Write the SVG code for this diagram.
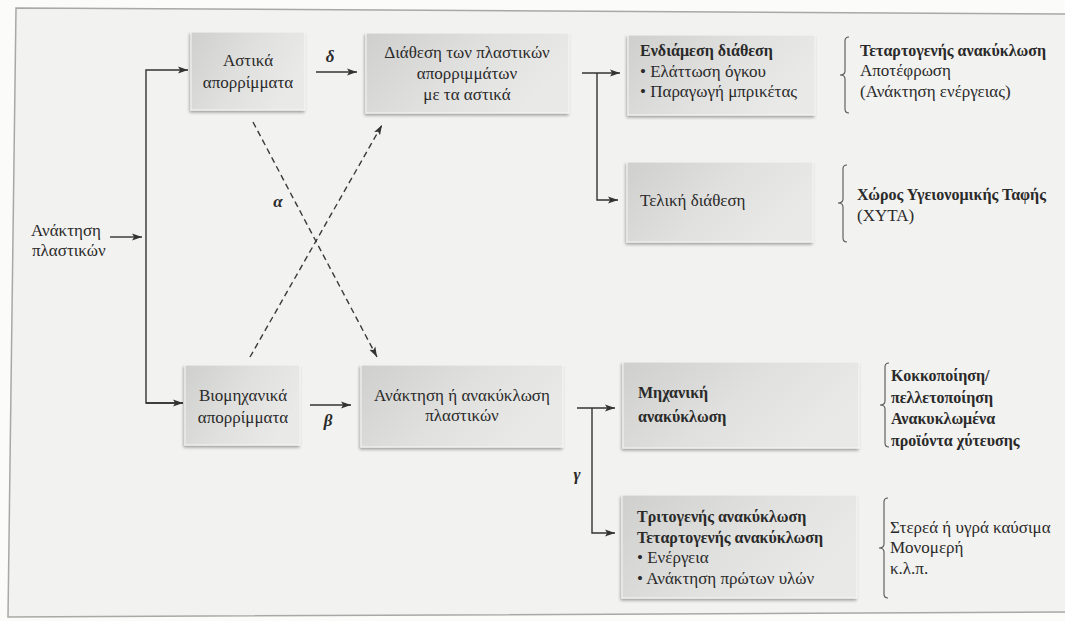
<svg xmlns="http://www.w3.org/2000/svg" width="1065" height="621" viewBox="0 0 1065 621">
  <defs>
    <linearGradient id="boxFill" x1="0" y1="0" x2="1" y2="0.4">
      <stop offset="0" stop-color="#cfcfcd"/>
      <stop offset="0.55" stop-color="#e0e0de"/>
      <stop offset="1" stop-color="#e9e9e7"/>
    </linearGradient>
    <filter id="shadow" x="-10%" y="-10%" width="120%" height="130%">
      <feGaussianBlur in="SourceAlpha" stdDeviation="1.4"/>
      <feOffset dx="-1" dy="2" result="b"/>
      <feComponentTransfer><feFuncA type="linear" slope="0.35"/></feComponentTransfer>
      <feMerge><feMergeNode/><feMergeNode in="SourceGraphic"/></feMerge>
    </filter>
    <marker id="arrow" viewBox="0 0 10 8" refX="10" refY="4" markerWidth="10" markerHeight="8" markerUnits="userSpaceOnUse" orient="auto">
      <path d="M0,0.6 L10,4 L0,7.4 L2.2,4 Z" fill="#333"/>
    </marker>
  </defs>
  <style>
    .box { fill: url(#boxFill); stroke: #f6f6f4; stroke-width: 1; filter: url(#shadow); }
    .t { font-family: "Liberation Serif", "DejaVu Serif", serif; font-size: 17px; fill: #2a2a2a; }
    .c { text-anchor: middle; }
    .b { font-weight: bold; font-size: 16px; }
    .lbl { font-family: "Liberation Serif", "DejaVu Serif", serif; font-size: 17px; font-weight: bold; font-style: italic; fill: #2a2a2a; text-anchor: middle; }
    .ln { fill: none; stroke: #333; stroke-width: 1.4; }
    .dash { fill: none; stroke: #3a3a3a; stroke-width: 1.4; stroke-dasharray: 6 4; }
    .brace { fill: none; stroke: #555; stroke-width: 1.1; }
  </style>

  <!-- page and frame -->
  <rect x="0" y="0" width="1065" height="621" fill="#fbfbfa"/>
  <path d="M16,8 L1080,14 L1080,612 L8,617 Z" fill="#f2f2f0" stroke="#a8a8a6" stroke-width="1.5"/>

  <!-- connectors -->
  <g id="connectors">
    <path class="ln" d="M110,237 L142,237" marker-end="url(#arrow)"/>
    <path class="ln" d="M183,403 L146,403 L146,70 L188,70" marker-end="url(#arrow)"/>
    <path class="ln" d="M146,403 L183,403" marker-end="url(#arrow)"/>
    <path class="ln" d="M316,72 L357,72" marker-end="url(#arrow)"/>
    <path class="ln" d="M310,405 L351,405" marker-end="url(#arrow)"/>
    <path class="dash" d="M253,122 L377,357" marker-end="url(#arrow)"/>
    <path class="dash" d="M250,357 L382,125" marker-end="url(#arrow)"/>
    <path class="ln" d="M582,73 L620,73" marker-end="url(#arrow)"/>
    <path class="ln" d="M597,73 L597,200 L618,200" marker-end="url(#arrow)"/>
    <path class="ln" d="M577,408 L615,408" marker-end="url(#arrow)"/>
    <path class="ln" d="M592,408 L592,533 L615,533" marker-end="url(#arrow)"/>
    <text class="lbl" x="330" y="62">δ</text>
    <text class="lbl" x="328" y="426">β</text>
    <text class="lbl" x="278" y="207">α</text>
    <text class="lbl" x="577" y="480">γ</text>
  </g>

  <!-- source -->
  <g id="source">
    <text class="t" x="31" y="236">Ανάκτηση</text>
    <text class="t" x="32" y="256">πλαστικών</text>
  </g>

  <g id="urban">
    <rect class="box" x="191" y="32" width="114" height="78"/>
    <text class="t c" x="248" y="66">Αστικά</text>
    <text class="t c" x="248" y="88">απορρίμματα</text>
  </g>

  <g id="industrial">
    <rect class="box" x="185" y="365" width="115" height="80"/>
    <text class="t c" x="243" y="401">Βιομηχανικά</text>
    <text class="t c" x="243" y="423">απορρίμματα</text>
  </g>

  <g id="disposal">
    <rect class="box" x="366" y="33" width="203" height="80"/>
    <text class="t c" x="467" y="58">Διάθεση των πλαστικών</text>
    <text class="t c" x="467" y="79">απορριμμάτων</text>
    <text class="t c" x="467" y="100">με τα αστικά</text>
  </g>

  <g id="recovery">
    <rect class="box" x="361" y="365" width="202" height="82"/>
    <text class="t c" x="462" y="401">Ανάκτηση ή ανακύκλωση</text>
    <text class="t c" x="462" y="421">πλαστικών</text>
  </g>

  <g id="intermediate">
    <rect class="box" x="628" y="35" width="187" height="80"/>
    <text class="t b" x="640" y="56">Ενδιάμεση διάθεση</text>
    <text class="t" x="640" y="77">• Ελάττωση όγκου</text>
    <text class="t" x="640" y="97">• Παραγωγή μπρικέτας</text>
  </g>

  <g id="final">
    <rect class="box" x="627" y="162" width="186" height="80"/>
    <text class="t" x="640" y="206">Τελική διάθεση</text>
  </g>

  <g id="mechanical">
    <rect class="box" x="623" y="362" width="236" height="86"/>
    <text class="t b" x="638" y="398">Μηχανική</text>
    <text class="t b" x="638" y="422">ανακύκλωση</text>
  </g>

  <g id="tertiary">
    <rect class="box" x="622" y="495" width="235" height="103"/>
    <text class="t b" x="637" y="522">Τριτογενής ανακύκλωση</text>
    <text class="t b" x="637" y="543">Τεταρτογενής ανακύκλωση</text>
    <text class="t" x="637" y="563">• Ενέργεια</text>
    <text class="t" x="637" y="584">• Ανάκτηση πρώτων υλών</text>
  </g>

  <!-- notes with braces -->
  <g id="note-incineration">
    <path class="brace" d="M849,37 Q845,37 845,41 L845,71 Q845,75 840,75 Q845,75 845,79 L845,109 Q845,113 849,113"/>
    <text class="t b" x="860" y="56">Τεταρτογενής ανακύκλωση</text>
    <text class="t" x="860" y="76">Αποτέφρωση</text>
    <text class="t" x="860" y="97">(Ανάκτηση ενέργειας)</text>
  </g>

  <g id="note-landfill">
    <path class="brace" d="M847,165 Q843,165 843,169 L843,199 Q843,203 838,203 Q843,203 843,207 L843,238 Q843,242 847,242"/>
    <text class="t b" x="857" y="200">Χώρος Υγειονομικής Ταφής</text>
    <text class="t" x="857" y="221">(ΧΥΤΑ)</text>
  </g>

  <g id="note-mechanical">
    <path class="brace" d="M889,363 Q885,363 885,367 L885,401 Q885,405 880,405 Q885,405 885,409 L885,443 Q885,447 889,447"/>
    <text class="t b" x="891" y="381">Κοκκοποίηση/</text>
    <text class="t b" x="891" y="403">πελλετοποίηση</text>
    <text class="t b" x="891" y="424">Ανακυκλωμένα</text>
    <text class="t b" x="891" y="446">προϊόντα χύτευσης</text>
  </g>

  <g id="note-fuels">
    <path class="brace" d="M888,498 Q884,498 884,502 L884,544 Q884,548 879,548 Q884,548 884,552 L884,594 Q884,598 888,598"/>
    <text class="t" x="890" y="533">Στερεά ή υγρά καύσιμα</text>
    <text class="t" x="890" y="553">Μονομερή</text>
    <text class="t" x="890" y="574">κ.λ.π.</text>
  </g>
</svg>
